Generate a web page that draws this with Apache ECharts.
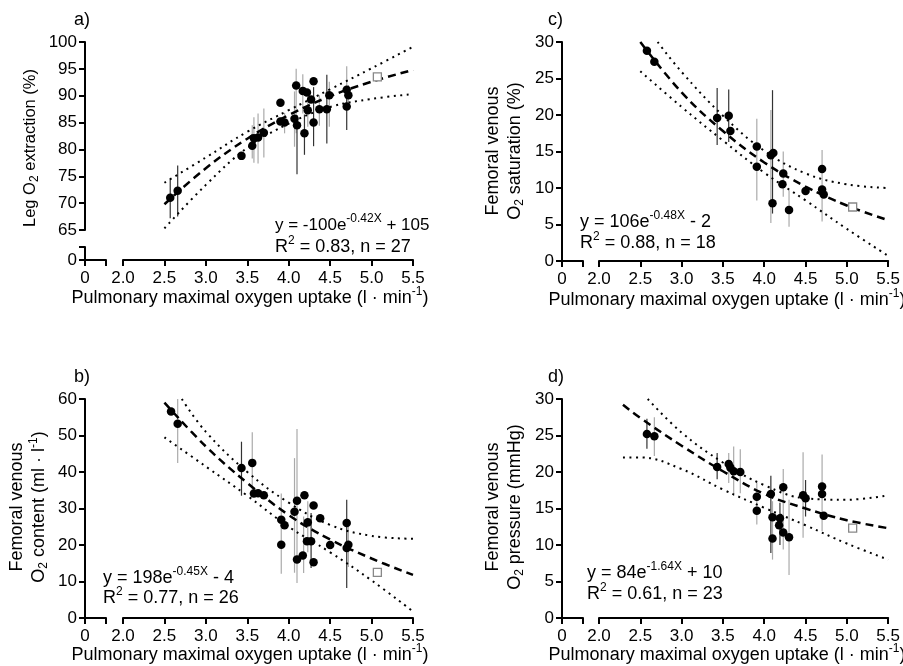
<!DOCTYPE html>
<html><head><meta charset="utf-8">
<script src="https://cdn.jsdelivr.net/npm/echarts@6/dist/echarts.min.js"></script>
<style>html,body{margin:0;padding:0;background:#fff}#c{width:903px;height:666px}</style>
</head><body><div id="c"></div>
<script>
// ---------- Panel a: Leg O2 extraction (%) ----------
const aX = [2.57,2.66,3.43,3.56,3.58,3.63,3.70,3.90,3.90,3.95,4.07,4.09,4.10,4.17,4.19,4.22,4.23,4.27,4.30,4.30,4.37,4.46,4.49,4.70,4.70,4.72];
const aY = [71.0,72.3,78.8,80.7,82.1,82.2,83.1,88.7,85.2,85.0,85.7,91.9,84.5,90.9,83.0,90.6,87.3,89.3,92.7,85.0,87.5,87.5,90.1,91.1,88.0,90.1];
const aOpen = [[5.07,93.5]];
const aErrDark = [[2.57,67.2,74.5],[2.66,67.5,77.0],[4.10,75.4,86.4],[4.19,79.0,86.5],[4.30,80.6,91.6],[4.46,81.1,93.9],[4.70,83.6,91.0]];
const aErrGray = [[3.56,78.3,84.5],[3.58,77.5,86.0],[3.63,77.4,86.7],[3.70,78.5,87.6],[3.95,83.0,86.8],[4.07,80.5,90.8],[4.09,83.0,95.0],[4.17,86.7,94.0],[4.23,84.2,89.2],[4.37,84.4,90.1],[4.49,84.2,92.6],[4.70,88.0,95.5],[4.72,87.5,92.0]];
const aFit = [[2.5,69.8],[3.0,76.5],[3.5,82.0],[4.0,86.4],[4.5,89.9],[5.0,92.6],[5.5,94.8]];
const aUpper = [[2.5,73.8],[3.0,78.5],[3.5,83.3],[4.0,87.3],[4.5,91.2],[5.0,95.1],[5.5,99.1]];
const aLower = [[2.5,65.3],[3.0,73.4],[3.5,80.3],[4.0,84.8],[4.5,87.9],[5.0,89.4],[5.5,90.3]];

// ---------- Panel c: Femoral venous O2 saturation (%) ----------
const cX = [2.58,2.67,3.43,3.57,3.59,3.91,3.91,4.08,4.11,4.10,4.23,4.22,4.30,4.50,4.70,4.70,4.72];
const cY = [28.8,27.3,19.6,19.9,17.8,15.7,12.9,14.5,14.8,7.9,12.0,10.5,7.0,9.6,12.6,9.8,9.1];
const cOpen = [[5.07,7.4]];
const cErrDark = [[3.43,15.9,23.7],[3.57,16.3,23.5],[4.10,6.5,23.4]];
const cErrGray = [[3.91,8.3,19.5],[4.08,5.2,20.7],[4.23,8.8,15.0],[4.30,4.7,9.7],[4.70,5.4,15.2]];
const cFit = [[2.5,30.0],[3.0,23.1],[3.5,17.8],[4.0,13.5],[4.5,10.2],[5.0,7.6],[5.5,5.6]];
const cUpper = [[2.71,30.0],[3.0,25.9],[3.5,19.9],[4.0,15.1],[4.5,12.0],[5.0,10.5],[5.5,10.0]];
const cLower = [[2.5,26.0],[3.0,21.1],[3.5,16.5],[4.0,12.1],[4.5,8.3],[5.0,4.4],[5.5,0.7]];

// ---------- Panel b: Femoral venous O2 content (ml/l) ----------
const bX = [2.58,2.66,3.43,3.56,3.58,3.63,3.70,3.91,3.91,3.95,4.07,4.10,4.10,4.17,4.19,4.22,4.23,4.27,4.30,4.30,4.38,4.50,4.70,4.70,4.72];
const bY = [56.6,53.2,41.1,42.5,34.1,34.2,33.6,26.9,20.1,25.4,29.1,32.1,16.0,17.1,33.6,21.0,26.2,21.0,30.8,15.3,27.3,20.0,26.0,19.2,20.1];
const bOpen = [[5.07,12.5]];
const bErrDark = [[3.43,33.5,48.3],[4.27,13.7,28.8],[4.70,8.2,32.4]];
const bErrGray = [[2.66,42.5,60.0],[3.56,34.2,50.9],[3.91,12.1,34.1],[4.07,12.4,43.8],[4.10,9.6,51.8],[4.18,12.3,27.8],[4.23,18.0,32.0],[4.72,14.0,25.0]];
const bFit = [[2.5,59.0],[3.0,47.0],[3.5,37.0],[4.0,28.2],[4.5,21.5],[5.0,16.3],[5.5,11.8]];
const bUpper = [[2.71,60.0],[3.0,51.0],[3.5,40.0],[4.0,31.6],[4.5,25.5],[5.0,22.5],[5.5,21.7]];
const bLower = [[2.5,49.5],[3.0,41.5],[3.5,33.5],[4.0,25.0],[4.5,18.0],[5.0,10.3],[5.5,1.8]];

// ---------- Panel d: Femoral venous O2 pressure (mmHg) ----------
const dX = [2.58,2.67,3.43,3.57,3.59,3.63,3.71,3.91,3.91,4.08,4.10,4.10,4.18,4.19,4.23,4.23,4.30,4.47,4.50,4.70,4.70,4.72];
const dY = [25.2,24.9,20.7,21.1,20.6,20.1,20.0,16.6,14.7,17.0,13.8,10.9,12.7,13.65,11.7,17.9,11.05,16.8,16.4,18.0,17.0,14.0];
const dOpen = [[5.07,12.3]];
const dErrDark = [[2.58,23.2,27.3],[3.43,19.0,22.6],[4.08,8.9,19.5],[4.19,10.0,15.8],[4.50,13.9,18.9]];
const dErrGray = [[2.67,22.2,27.5],[3.57,18.5,22.6],[3.63,16.7,23.5],[3.71,17.1,23.1],[3.91,12.8,18.6],[4.10,8.0,16.0],[4.23,9.4,20.4],[4.30,5.9,16.2],[4.47,11.0,22.7],[4.70,11.9,22.4]];
const dFit = [[2.29,29.2],[2.5,27.4],[3.0,23.6],[3.5,20.1],[4.0,17.0],[4.5,15.0],[5.0,13.4],[5.5,12.3]];
const dUpper = [[2.59,30.0],[3.0,25.4],[3.5,21.3],[4.0,18.2],[4.5,16.4],[5.0,16.2],[5.5,16.8]];
const dLower = [[2.29,22.0],[2.5,22.0],[3.0,20.4],[3.5,17.6],[4.0,15.1],[4.5,12.7],[5.0,10.2],[5.5,8.0]];

// ---------- texts ----------
const panelLabels = ['a)','c)','b)','d)'];
const eqTexts = ['y = -100e{s|-0.42X} + 105','y = 106e{s|-0.48X} - 2','y = 198e{s|-0.45X} - 4','y = 84e{s|-1.64X} + 10'];
const r2Texts = ['R{s|2} = 0.83, n = 27','R{s|2} = 0.88, n = 18','R{s|2} = 0.77, n = 26','R{s|2} = 0.61, n = 23'];
const yTitles = ['Leg O{b|2} extraction (%)','Femoral venous\nO{b|2} saturation (%)','Femoral venous\nO{b|2} content (ml · l{s|-1})','Femoral venous\nO{b|2} pressure (mmHg)'];
const xTitle = 'Pulmonary maximal oxygen uptake (l · min{s|-1})';

const FONT = "'Liberation Sans', Arial, Helvetica, sans-serif";
const chart = echarts.init(document.getElementById('c'), null, {renderer:'canvas'});

const axisLine = {onZero:false, lineStyle:{color:'#000', width:2}};
const axisTick = {length:6, lineStyle:{color:'#000', width:2}};
const lbl = (extra) => Object.assign({color:'#000', fontSize:17, fontFamily:FONT, margin:8}, extra||{});

const grids = [
  {left:123, top:42, width:290, height:188},
  {left:85, top:247, width:21, height:13},
  {left:599, top:42, width:291, height:219},
  {left:562, top:42, width:21, height:219},
  {left:123, top:399, width:290, height:219},
  {left:85, top:399, width:21, height:219},
  {left:599, top:399, width:291, height:219},
  {left:562, top:399, width:21, height:219}
];

const xAxes = [], yAxes = [];
const mainY = [
  {min:65, max:100, interval:5, offset:38, xoff:30},
  {min:0, max:30, interval:5, offset:37, xoff:0},
  {min:0, max:60, interval:10, offset:38, xoff:0},
  {min:0, max:30, interval:5, offset:37, xoff:0}
];
for (let p = 0; p < 4; p++) {
  const m = mainY[p];
  xAxes.push({type:'value', gridIndex:2*p, min:2, max:5.5, interval:0.5, offset:m.xoff,
    axisLine, axisTick, splitLine:{show:false},
    axisLabel: lbl({margin:10, formatter: v => v.toFixed(1)})});
  yAxes.push({type:'value', gridIndex:2*p, min:m.min, max:m.max, interval:m.interval, offset:m.offset,
    axisLine, axisTick, splitLine:{show:false}, axisLabel: lbl()});
  xAxes.push({type:'value', gridIndex:2*p+1, min:0, max:1, interval:1,
    axisLine, axisTick, splitLine:{show:false},
    axisLabel: lbl({margin:10, formatter: v => v === 0 ? '0' : ''})});
  yAxes.push({type:'value', gridIndex:2*p+1, min:0, max:1, interval:1, show: p === 0,
    axisLine, axisTick, splitLine:{show:false},
    axisLabel: lbl({formatter: v => v === 0 ? '0' : ''})});
}

function errSeries(idx, data, color) {
  return {type:'custom', xAxisIndex:idx, yAxisIndex:idx, data, z:2,
    encode:{x:0, y:[1,2]},
    renderItem: (params, api) => {
      const x = api.value(0);
      const p1 = api.coord([x, api.value(1)]);
      const p2 = api.coord([x, api.value(2)]);
      return {type:'line', shape:{x1:p1[0], y1:p1[1], x2:p2[0], y2:p2[1]},
        style:{stroke:color, lineWidth:1.2}};
    }};
}
function lineSeries(idx, data, dashed) {
  return {type:'line', xAxisIndex:idx, yAxisIndex:idx, data, showSymbol:false, smooth:0.4, z:3,
    lineStyle: dashed ? {color:'#000', width:2.5, type:[8,5]} : {color:'#000', width:2, type:[2,4.5]}};
}
const panels = [
  [aX,aY,aOpen,aErrDark,aErrGray,aFit,aUpper,aLower],
  [cX,cY,cOpen,cErrDark,cErrGray,cFit,cUpper,cLower],
  [bX,bY,bOpen,bErrDark,bErrGray,bFit,bUpper,bLower],
  [dX,dY,dOpen,dErrDark,dErrGray,dFit,dUpper,dLower]
];
const series = [];
panels.forEach((P, p) => {
  const idx = 2*p;
  const [X,Y,open,eD,eG,fit,up,lo] = P;
  series.push(errSeries(idx, eG, '#aaaaaa'));
  series.push(errSeries(idx, eD, '#333333'));
  series.push(lineSeries(idx, up, false));
  series.push(lineSeries(idx, lo, false));
  series.push(lineSeries(idx, fit, true));
  series.push({type:'scatter', xAxisIndex:idx, yAxisIndex:idx, z:5, symbol:'circle', symbolSize:8.5,
    itemStyle:{color:'#000', opacity:1}, data: X.map((x,i) => [x, Y[i]])});
  series.push({type:'scatter', xAxisIndex:idx, yAxisIndex:idx, z:5, symbol:'rect', symbolSize:8,
    itemStyle:{color:'#fff', borderColor:'#888', borderWidth:1.3, opacity:1}, data: open});
});

const rich = {
  s:{fontSize:12, fontFamily:FONT, fill:'#000', verticalAlign:'top'},
  b:{fontSize:12, fontFamily:FONT, fill:'#000', verticalAlign:'bottom'}
};
function T(x, y, text, o) {
  o = o || {};
  return {type:'text', x, y, rotation:o.rot||0, z:10,
    style:{text, fill:'#000', fontSize:o.fs||18, fontFamily:FONT, lineHeight:o.lh||24,
      align:o.align||'left', verticalAlign:'middle', rich}};
}
// panel text anchors
const pos = [
  {lab:[74,20], eq:[275,225], r2:[275,247], xt:[250,298], yt:[30,148], yfs:16.5, efs:17},
  {lab:[548,20], eq:[580,222], r2:[580,243], xt:[727,300], yt:[504,151], yfs:18, efs:18},
  {lab:[74,377], eq:[103,578], r2:[103,598], xt:[250,655], yt:[28,507], yfs:18, efs:18},
  {lab:[548,377], eq:[587,573], r2:[587,594], xt:[727,655], yt:[504,507], yfs:18, efs:18}
];
const graphic = [];
pos.forEach((q, p) => {
  graphic.push(T(q.lab[0], q.lab[1], panelLabels[p]));
  graphic.push(T(q.eq[0], q.eq[1], eqTexts[p], {fs:q.efs}));
  graphic.push(T(q.r2[0], q.r2[1], r2Texts[p]));
  graphic.push(T(q.xt[0], q.xt[1], xTitle, {align:'center'}));
  graphic.push(T(q.yt[0], q.yt[1], yTitles[p], {align:'center', rot:Math.PI/2, lh:22, fs:q.yfs}));
});

chart.setOption({
  animation:false,
  backgroundColor:'#fff',
  grid:grids, xAxis:xAxes, yAxis:yAxes, series, graphic
});
</script></body></html>
